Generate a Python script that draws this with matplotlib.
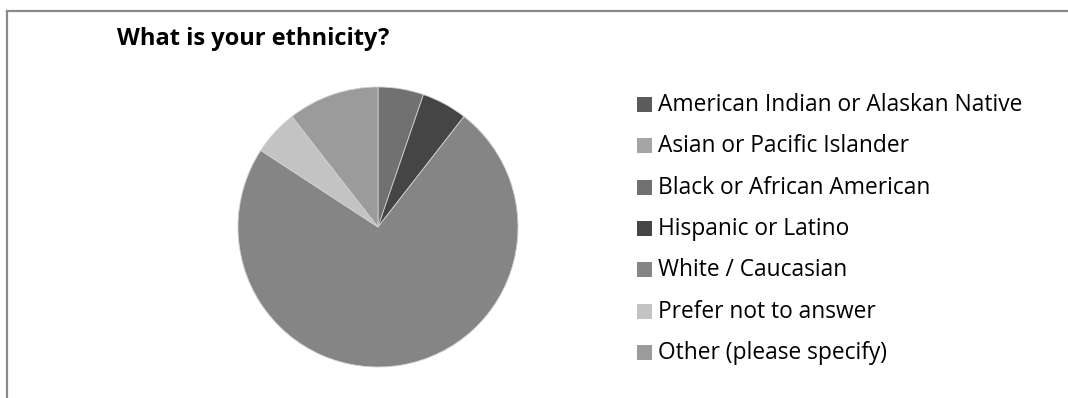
import matplotlib
matplotlib.use("Agg")
import matplotlib.pyplot as plt
from matplotlib.patches import Rectangle
from matplotlib.lines import Line2D

categories = [
    "American Indian or Alaskan Native",
    "Asian or Pacific Islander",
    "Black or African American",
    "Hispanic or Latino",
    "White / Caucasian",
    "Prefer not to answer",
    "Other (please specify)",
]
responses = [0, 0, 1, 1, 14, 1, 2]
colors = ["#5b5b5b", "#a5a5a5", "#717171", "#454545", "#858585", "#c3c3c3", "#9b9b9b"]
title = "What is your ethnicity?"

W, H = 1068, 398
fig = plt.figure(figsize=(W / 100, H / 100), dpi=100)
fig.patch.set_facecolor("white")


def fx(px):
    return px / W


def fy(py):
    return 1 - py / H


# chart frame (top and left edges)
fig.add_artist(Line2D([fx(7), fx(W)], [fy(10.5), fy(10.5)], color="#8a8a8a", lw=1.6))
fig.add_artist(Line2D([fx(7), fx(7)], [fy(10.5), fy(H)], color="#8a8a8a", lw=1.6))

fig.text(fx(117), fy(45), title, fontsize=17, fontweight="bold",
         family="Open Sans", color="black", va="baseline", ha="left")

# pie
cx, cy, r = 378, 227, 140
ax = fig.add_axes([fx(cx - r), fy(cy + r), fx(2 * r), (2 * r) / H])
nz = [(v, c) for v, c in zip(responses, colors) if v > 0]
ax.pie([v for v, _ in nz], colors=[c for _, c in nz], startangle=90,
       counterclock=False, radius=1,
       wedgeprops=dict(edgecolor="#d0d0d0", linewidth=0.6))
ax.set_xlim(-1, 1)
ax.set_ylim(-1, 1)
ax.set_aspect("auto")
ax.axis("off")

# legend
for i, (lab, col) in enumerate(zip(categories, colors)):
    yc = 104.5 + i * 41.3
    fig.add_artist(Rectangle((fx(637), fy(yc + 7.5)), fx(15), 15 / H,
                             facecolor=col, edgecolor="none"))
    fig.text(fx(658), fy(yc + 6.5), lab, fontsize=16.4, family="Open Sans",
             color="black", va="baseline", ha="left")

fig.savefig("out.png", dpi=100, facecolor="white")
